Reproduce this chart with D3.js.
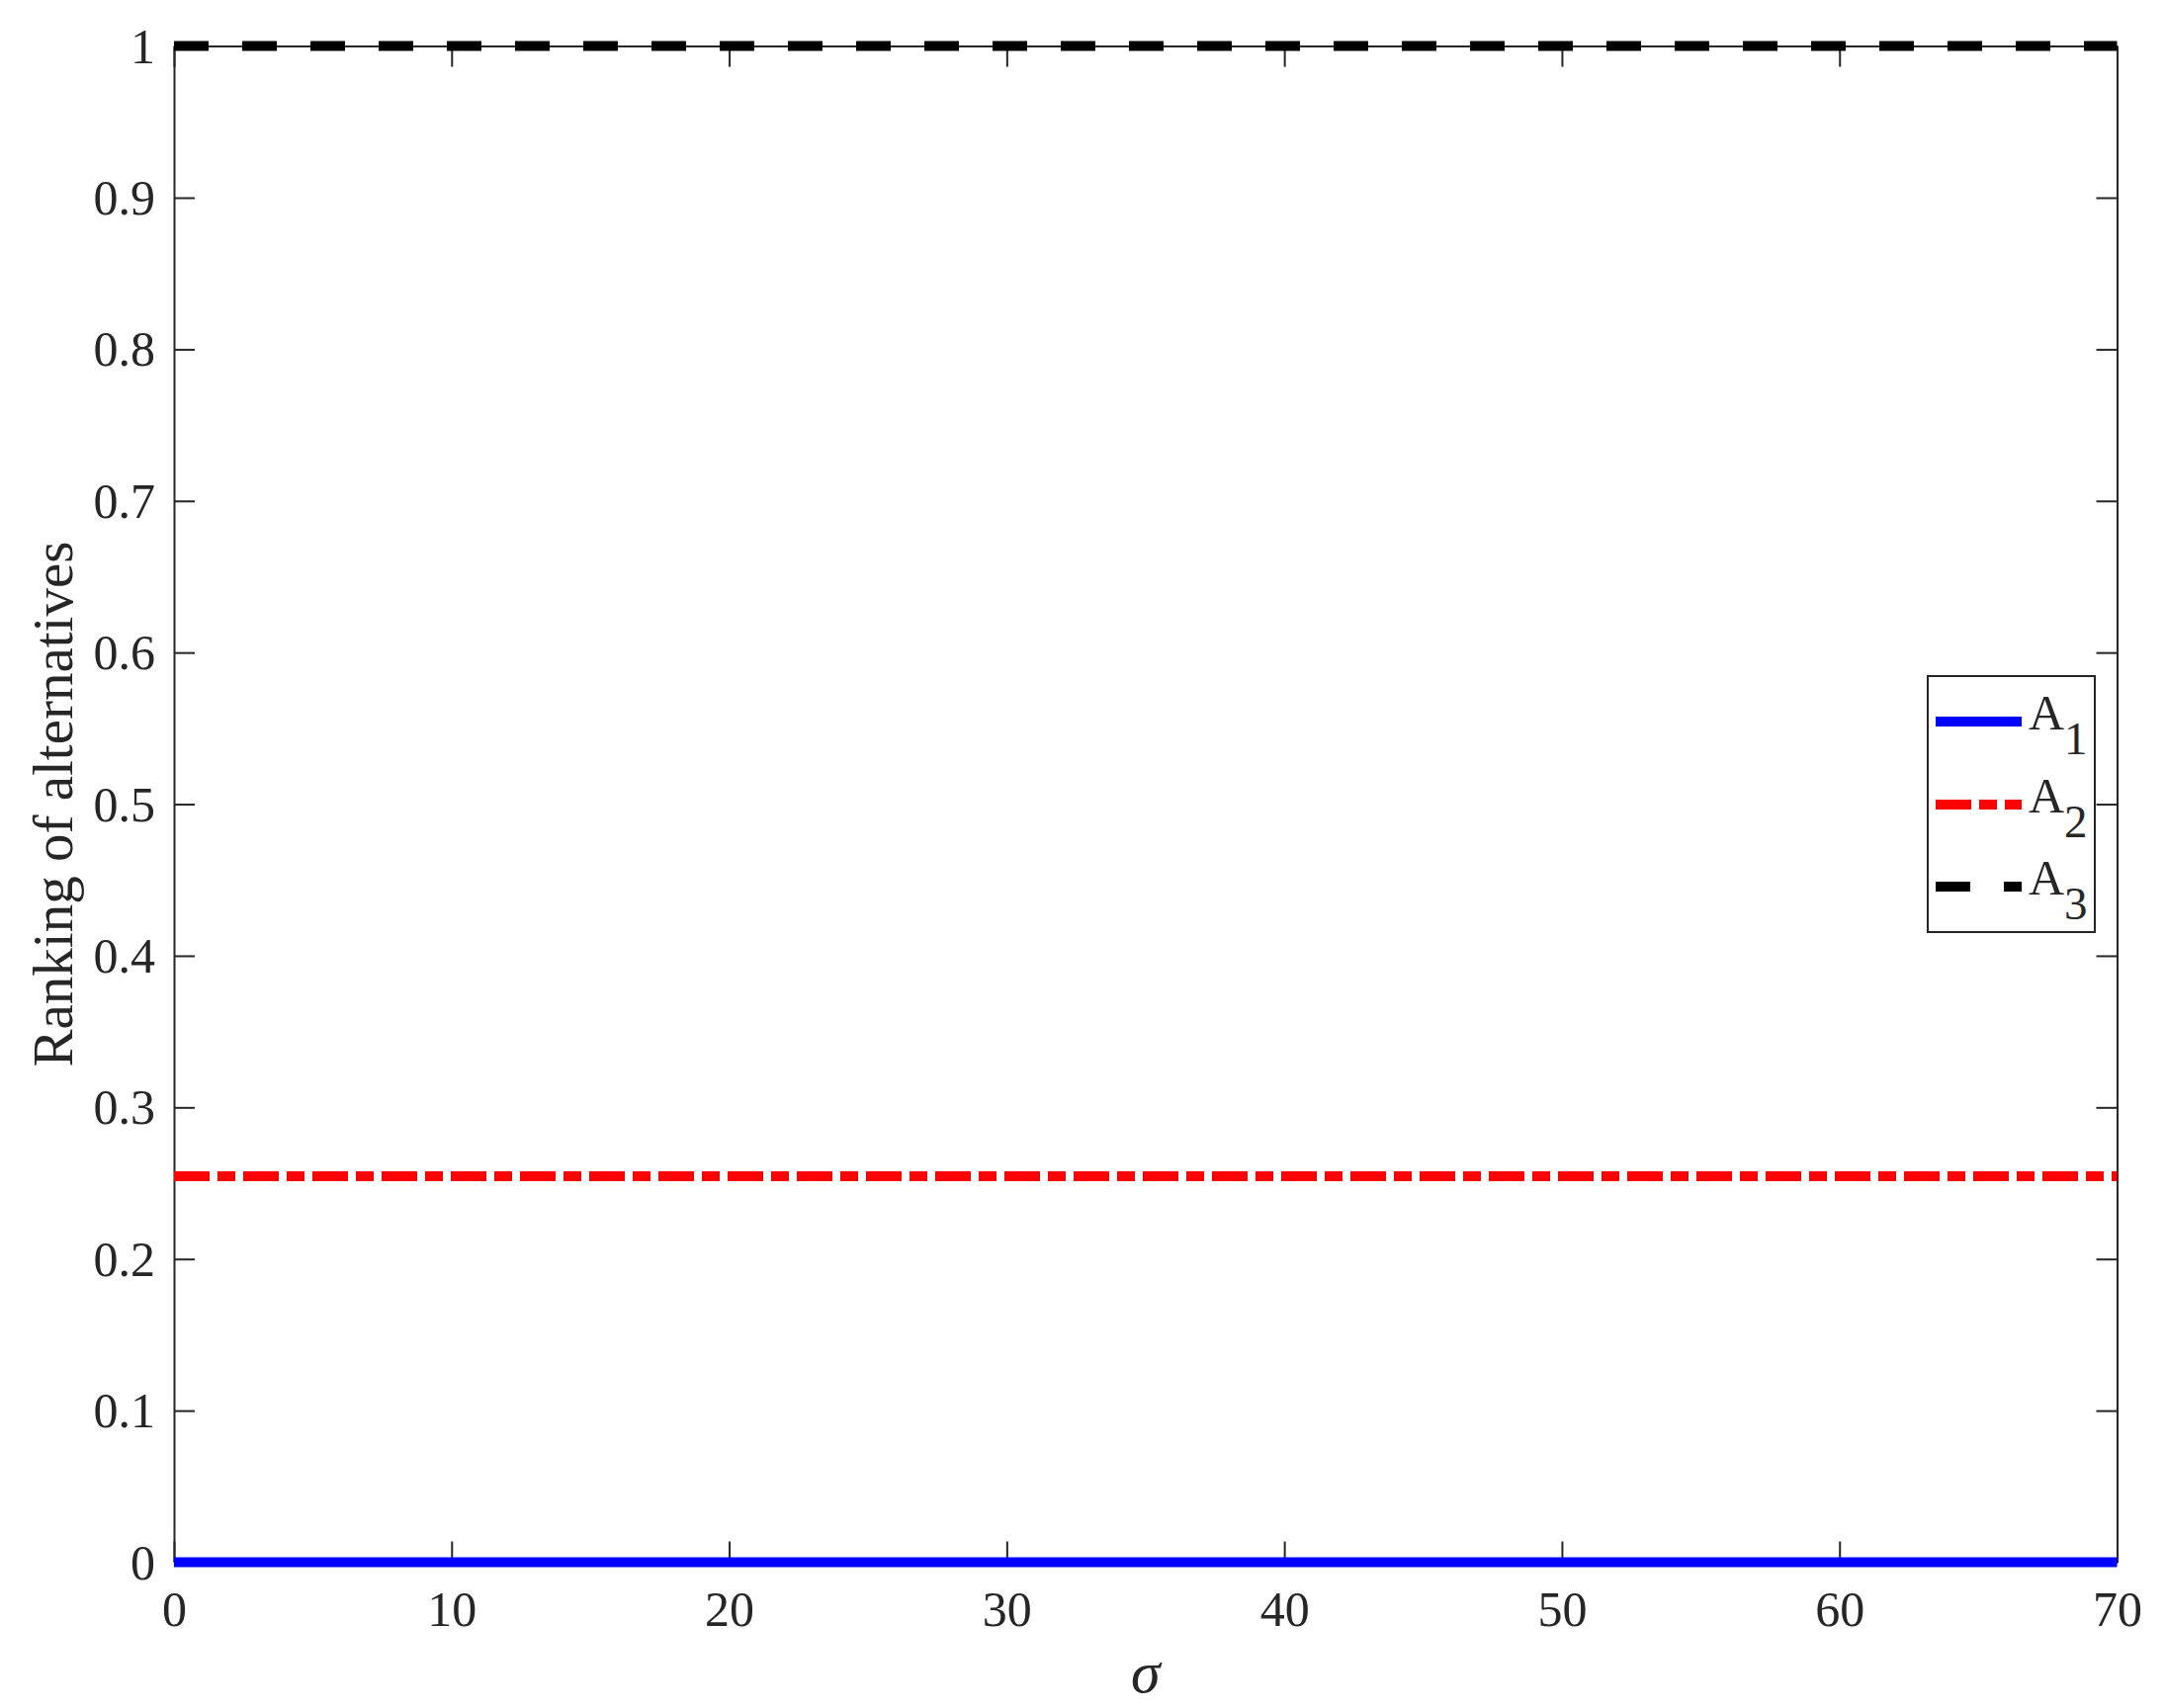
<!DOCTYPE html>
<html>
<head>
<meta charset="utf-8">
<script src="https://cdn.jsdelivr.net/npm/d3@7"></script>
<style>
  html, body { margin: 0; padding: 0; background: #fff; }
  svg { display: block; }
  text { font-family: "Liberation Serif", "Times New Roman", serif; fill: #262626; }
</style>
</head>
<body>
<script>
// ---- data ----
const sigma = [0, 10, 20, 30, 40, 50, 60, 70];
const A1 = [0, 0, 0, 0, 0, 0, 0, 0];
const A2 = [0.2546, 0.2546, 0.2546, 0.2546, 0.2546, 0.2546, 0.2546, 0.2546];
const A3 = [1, 1, 1, 1, 1, 1, 1, 1];
const seriesNames = ["A1", "A2", "A3"];
const xTicks = [0, 10, 20, 30, 40, 50, 60, 70];
const yTicks = [0, 0.1, 0.2, 0.3, 0.4, 0.5, 0.6, 0.7, 0.8, 0.9, 1];

const W = 2190, H = 1728;
const L = 176, R = 2141.5, T = 46.6, B = 1580.5;
const axisColor = "#262626";

const svg = d3.select("body").append("svg").attr("width", W).attr("height", H);

const x = d3.scaleLinear().domain([0, 70]).range([L, R]);
const y = d3.scaleLinear().domain([0, 1]).range([B, T]);

const tickLen = 21;

function styleAxis(g) {
  g.selectAll("path.domain").attr("stroke", axisColor).attr("stroke-width", 2);
  g.selectAll(".tick line").attr("stroke", axisColor).attr("stroke-width", 2);
}

// bottom axis
const gx = svg.append("g").attr("transform", `translate(0,${B})`)
  .call(d3.axisBottom(x).tickValues(xTicks).tickFormat(d3.format("d"))
    .tickSizeInner(-tickLen).tickSizeOuter(0));
styleAxis(gx);
gx.selectAll(".tick text").attr("y", 0).attr("dy", 0).attr("transform", "translate(0,64)")
  .style("font-size", "50px").attr("fill", axisColor);

// left axis
const gy = svg.append("g").attr("transform", `translate(${L},0)`)
  .call(d3.axisLeft(y).tickValues(yTicks).tickFormat(d => d === 0 ? "0" : d === 1 ? "1" : d3.format(".1f")(d))
    .tickSizeInner(-tickLen).tickSizeOuter(0));
styleAxis(gy);
gy.selectAll(".tick text").attr("x", -19).attr("dy", "0.33em")
  .style("font-size", "50px").attr("fill", axisColor);

// top axis
const gt = svg.append("g").attr("transform", `translate(0,${T})`)
  .call(d3.axisTop(x).tickValues(xTicks).tickFormat("").tickSizeInner(-tickLen).tickSizeOuter(0));
styleAxis(gt);

// right axis
const gr = svg.append("g").attr("transform", `translate(${R},0)`)
  .call(d3.axisRight(y).tickValues(yTicks).tickFormat("").tickSizeInner(-tickLen).tickSizeOuter(0));
styleAxis(gr);

// lines
const styles = [
  { color: "#0000FF", dash: null },
  { color: "#FF0000", dash: "36,8,18,8" },
  { color: "#000000", dash: "35,34" }
];
const seriesData = [A1, A2, A3];
const line = d3.line().x((d, i) => x(sigma[i])).y(d => y(d));

seriesData.forEach((vals, k) => {
  const p = svg.append("path").datum(vals)
    .attr("d", line)
    .attr("fill", "none")
    .attr("stroke", styles[k].color)
    .attr("stroke-width", 10)
    .attr("stroke-linecap", "butt");
  if (styles[k].dash) p.attr("stroke-dasharray", styles[k].dash);
});

// axis labels
svg.append("text")
  .attr("transform", `translate(${(L + R) / 2},1712)`)
  .attr("text-anchor", "middle")
  .style("font-size", "60px").style("font-style", "italic")
  .attr("fill", axisColor)
  .text("σ");

svg.append("text")
  .attr("transform", `translate(73,${(T + B) / 2}) rotate(-90)`)
  .attr("text-anchor", "middle")
  .style("font-size", "57px")
  .attr("fill", axisColor)
  .text("Ranking of alternatives");

// legend
const lg = svg.append("g");
lg.append("rect").attr("x", 1950).attr("y", 684).attr("width", 169).attr("height", 259)
  .attr("fill", "#fff").attr("stroke", axisColor).attr("stroke-width", 2);
const legY = [730, 814, 897];
seriesNames.forEach((name, k) => {
  const ln = lg.append("line").attr("x1", 1958).attr("x2", 2045)
    .attr("y1", legY[k]).attr("y2", legY[k])
    .attr("stroke", styles[k].color).attr("stroke-width", 10);
  if (styles[k].dash) ln.attr("stroke-dasharray", styles[k].dash);
  const t = lg.append("text").attr("x", 2052).attr("y", legY[k] + 8)
    .style("font-size", "50px").attr("fill", "#000");
  t.append("tspan").text(name.charAt(0));
  t.append("tspan").attr("dy", 25).style("font-size", "47px").text(name.slice(1));
});
</script>
</body>
</html>
